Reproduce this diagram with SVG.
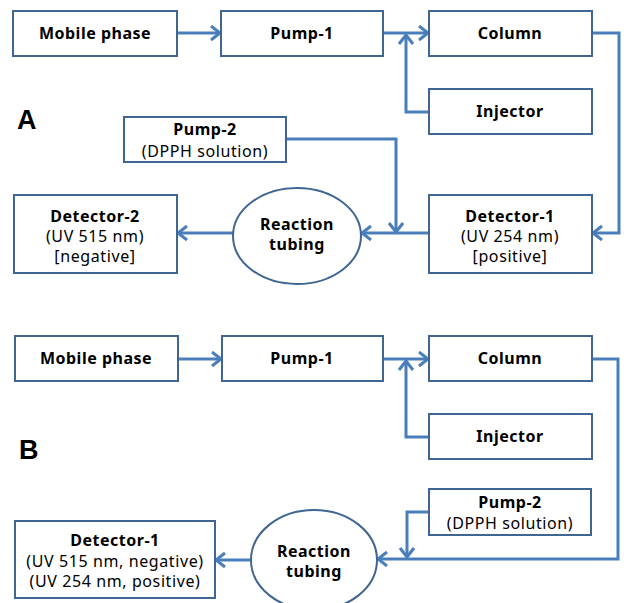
<svg xmlns="http://www.w3.org/2000/svg" width="624" height="603" viewBox="0 0 624 603">
<style>
.box{fill:#fff;stroke:#3f6693;stroke-width:2}
.con{fill:none;stroke:#4a7ebb;stroke-width:3}
text{font-family:"Noto Sans","Open Sans",sans-serif;font-size:16px;fill:#000;text-anchor:middle}
.b{font-weight:bold;letter-spacing:0.5px}
.r{letter-spacing:0.6px}
.lbl{font-family:"Liberation Sans",Arial,sans-serif;font-size:27px;font-weight:bold;text-anchor:start;letter-spacing:0}
</style>
<defs>
<marker id="ah" markerUnits="userSpaceOnUse" markerWidth="14" markerHeight="18" refX="11" refY="8" orient="auto">
<path d="M2,1 L11,8 L2,15" fill="none" stroke="#4a7ebb" stroke-width="3"/>
</marker>
</defs>
<rect width="624" height="603" fill="#fff"/>
<g id="connectors">
<path class="con" d="M177,33 H220" marker-end="url(#ah)"/>
<path class="con" d="M383,33 H428" marker-end="url(#ah)"/>
<path class="con" d="M429,112 H406 V35" marker-end="url(#ah)"/>
<path class="con" d="M592,33 H619 V233 H593" marker-end="url(#ah)"/>
<path class="con" d="M286,139 H396 V232" marker-end="url(#ah)"/>
<path class="con" d="M429,233 H362" marker-end="url(#ah)"/>
<path class="con" d="M233,233 H178" marker-end="url(#ah)"/>
<path class="con" d="M178,359 H221" marker-end="url(#ah)"/>
<path class="con" d="M383,359 H428" marker-end="url(#ah)"/>
<path class="con" d="M429,437 H406 V361" marker-end="url(#ah)"/>
<path class="con" d="M592,359 H618 V559 H378" marker-end="url(#ah)"/>
<path class="con" d="M429,512 H407 V557" marker-end="url(#ah)"/>
<path class="con" d="M251,560 H216" marker-end="url(#ah)"/>
</g>
<text class="lbl" x="17" y="129">A</text>
<text class="lbl" x="19" y="459">B</text>
<g id="a-mobile"><rect class="box" x="13" y="11" width="164" height="45"/><text class="b" x="95" y="39">Mobile phase</text></g>
<g id="a-pump1"><rect class="box" x="221" y="11" width="162" height="45"/><text class="b" x="302" y="39">Pump-1</text></g>
<g id="a-column"><rect class="box" x="429" y="11" width="163" height="45"/><text class="b" x="510" y="39">Column</text></g>
<g id="a-injector"><rect class="box" x="429" y="89" width="163" height="45"/><text class="b" x="510" y="117">Injector</text></g>
<g id="a-pump2"><rect class="box" x="124" y="117" width="162" height="45"/><text class="b" x="205" y="135">Pump-2</text><text class="r" x="205" y="157">(DPPH solution)</text></g>
<g id="a-detector1"><rect class="box" x="429" y="195" width="163" height="78"/><text class="b" x="510" y="222">Detector-1</text><text class="r" x="510" y="242">(UV 254 nm)</text><text class="r" x="510" y="262">[positive]</text></g>
<g id="a-reaction"><ellipse class="box" cx="297" cy="236" rx="64" ry="48"/><text class="b" x="297" y="230">Reaction</text><text class="b" x="297" y="250">tubing</text></g>
<g id="a-detector2"><rect class="box" x="14" y="195" width="163" height="78"/><text class="b" x="95" y="222">Detector-2</text><text class="r" x="95" y="242">(UV 515 nm)</text><text class="r" x="95" y="262">[negative]</text></g>
<g id="b-mobile"><rect class="box" x="15" y="336" width="163" height="45"/><text class="b" x="96" y="364">Mobile phase</text></g>
<g id="b-pump1"><rect class="box" x="222" y="336" width="161" height="45"/><text class="b" x="302" y="364">Pump-1</text></g>
<g id="b-column"><rect class="box" x="429" y="336" width="163" height="45"/><text class="b" x="510" y="364">Column</text></g>
<g id="b-injector"><rect class="box" x="429" y="414" width="163" height="45"/><text class="b" x="510" y="442">Injector</text></g>
<g id="b-pump2"><rect class="box" x="429" y="489" width="162" height="46"/><text class="b" x="510" y="508">Pump-2</text><text class="r" x="510" y="529">(DPPH solution)</text></g>
<g id="b-reaction"><ellipse class="box" cx="314" cy="560" rx="63" ry="50"/><text class="b" x="314" y="557">Reaction</text><text class="b" x="314" y="577">tubing</text></g>
<g id="b-detector1"><rect class="box" x="15" y="521" width="200" height="77"/><text class="b" x="115" y="546">Detector-1</text><text class="r" x="115" y="567">(UV 515 nm, negative)</text><text class="r" x="115" y="587">(UV 254 nm, positive)</text></g>
</svg>
